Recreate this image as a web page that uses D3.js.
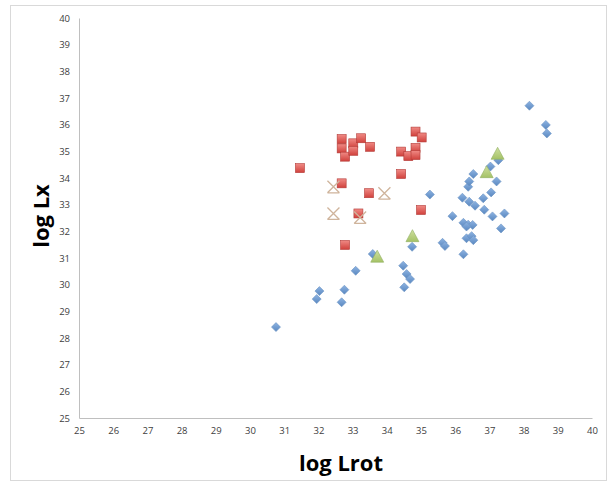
<!DOCTYPE html>
<html><head><meta charset="utf-8">
<script src="https://cdn.jsdelivr.net/npm/d3@7"></script>
<style>body{margin:0;background:#fff}svg{display:block}</style>
</head><body>
<svg id="c" width="609" height="482"></svg>
<script>
const xTicks = [25,26,27,28,29,30,31,32,33,34,35,36,37,38,39,40];
const yTicks = [25,26,27,28,29,30,31,32,33,34,35,36,37,38,39,40];
const blueLrot = [30.76,31.95,32.03,32.68,32.76,33.09,33.59,34.48,34.58,34.68,34.51,34.74,35.26,35.63,35.70,35.92,36.24,36.21,36.41,36.58,36.24,36.38,36.51,36.33,36.33,36.48,36.53,36.85,37.09,37.44,37.34,36.82,37.05,36.38,36.41,37.21,36.53,37.03,37.26,38.17,38.65,38.68];
const blueLx   = [28.41,29.46,29.76,29.34,29.81,30.52,31.15,30.71,30.40,30.21,29.90,31.42,33.38,31.57,31.45,32.57,31.14,33.26,33.11,32.96,32.32,32.25,32.24,32.18,31.74,31.82,31.67,32.81,32.56,32.67,32.11,33.24,33.46,33.67,33.87,33.87,34.15,34.43,34.67,36.71,35.99,35.67];
const redLrot = [31.46,32.68,32.68,32.78,33.02,33.02,33.25,33.51,32.68,33.48,33.17,34.84,35.02,34.42,34.63,34.84,34.84,34.42,35.00,32.78];
const redLx   = [34.37,35.46,35.11,34.80,35.30,35.02,35.49,35.17,33.80,33.43,32.67,35.74,35.52,34.99,34.82,35.13,34.86,34.15,32.80,31.49];
const greenLrot = [37.24,36.92,34.75,33.72];
const greenLx   = [34.89,34.20,31.80,31.03];
const crossLrot = [32.44,33.93,32.44,33.22];
const crossLx   = [33.67,33.43,32.67,32.52];

const svg = d3.select('#c');
const x = d3.scaleLinear().domain([25,40]).range([79,592]);
const y = d3.scaleLinear().domain([25,40]).range([418,18]);
const font = "'Open Sans', 'Liberation Sans', sans-serif";

svg.append('rect').attr('x',10.5).attr('y',5.5).attr('width',596).attr('height',475)
  .attr('fill','#fff').attr('stroke','#d9d9d9');

const gx = svg.append('g').attr('transform','translate(0,418)')
  .call(d3.axisBottom(x).tickValues(xTicks).tickSize(0).tickPadding(9).tickFormat(d3.format('d')));
const gy = svg.append('g').attr('transform','translate(79,0)')
  .call(d3.axisLeft(y).tickValues(yTicks).tickSize(0).tickPadding(9).tickFormat(d3.format('d')));
[gx,gy].forEach(g=>{
  g.select('.domain').attr('stroke','#bfbfbf');
  g.selectAll('text').attr('font-family',font).attr('font-size',9.5).attr('fill','#404040');
});

const defs = svg.append('defs');
function grad(id,c1,c2){
  const g = defs.append('linearGradient').attr('id',id).attr('x1',0).attr('y1',0).attr('x2',0).attr('y2',1);
  g.append('stop').attr('offset','0%').attr('stop-color',c1);
  g.append('stop').attr('offset','100%').attr('stop-color',c2);
}
grad('gb','#8db3e2','#5a88c0');
grad('gr','#f08a85','#d0413c');
grad('gg','#cfe0a0','#a5c266');

const blue = blueLrot.map((v,i)=>[v,blueLx[i]]);
const red = redLrot.map((v,i)=>[v,redLx[i]]);
const green = greenLrot.map((v,i)=>[v,greenLx[i]]);
const cross = crossLrot.map((v,i)=>[v,crossLx[i]]);

svg.append('g').selectAll('path').data(blue).join('path')
  .attr('transform',d=>`translate(${x(d[0])},${y(d[1])})`)
  .attr('d','M0,-4.5L4.5,0L0,4.5L-4.5,0Z')
  .attr('fill','url(#gb)').attr('stroke','#6a92c2').attr('stroke-width',0.6);

svg.append('g').selectAll('rect').data(red).join('rect')
  .attr('x',d=>x(d[0])-4.5).attr('y',d=>y(d[1])-4.5).attr('width',9).attr('height',9)
  .attr('fill','url(#gr)').attr('stroke','#b33a36').attr('stroke-width',0.6);

svg.append('g').selectAll('path').data(green).join('path')
  .attr('transform',d=>`translate(${x(d[0])},${y(d[1])})`)
  .attr('d','M0,-7L6.5,5L-6.5,5Z')
  .attr('fill','url(#gg)').attr('stroke','#8fae60').attr('stroke-width',0.6);

svg.append('g').selectAll('path').data(cross).join('path')
  .attr('transform',d=>`translate(${x(d[0])},${y(d[1])})`)
  .attr('d','M-6,-6L6,6M6,-6L-6,6M-6,6L6,6')
  .attr('fill','none').attr('stroke','#cfb49c').attr('stroke-width',1.3);

svg.append('text').attr('x',341).attr('y',471).attr('text-anchor','middle')
  .attr('font-family',font).attr('font-weight','bold').attr('font-size',22).attr('fill','#000')
  .text('log Lrot');
svg.append('text').attr('transform','translate(49,216) rotate(-90)').attr('text-anchor','middle')
  .attr('font-family',font).attr('font-weight','bold').attr('font-size',22).attr('fill','#000')
  .text('log Lx');
</script>
</body></html>
